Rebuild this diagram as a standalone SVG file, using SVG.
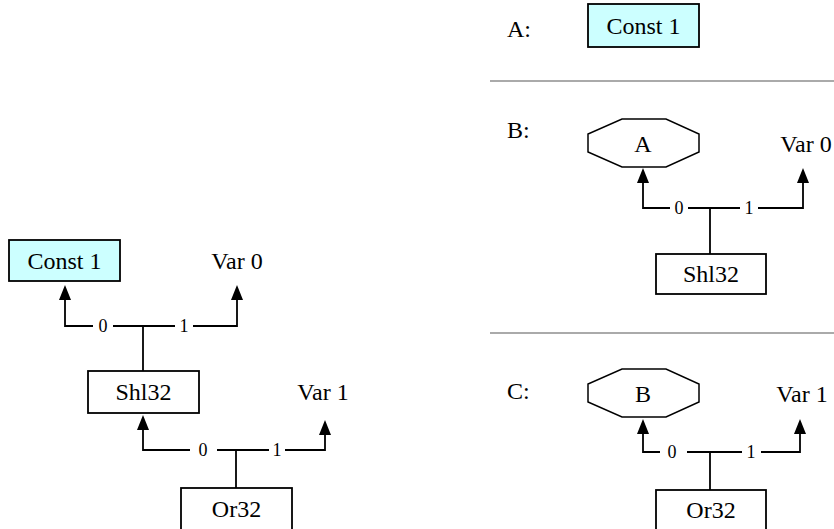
<svg xmlns="http://www.w3.org/2000/svg" width="834" height="529" viewBox="0 0 834 529">
  <style>
    .box { fill: #ffffff; stroke: #000000; stroke-width: 1.8; }
    .const { fill: #ccffff; }
    .oct { fill: #ffffff; stroke: #000000; stroke-width: 1.5; }
    .lbl { font-family: "Liberation Serif", "Times New Roman", serif; font-size: 24px; fill: #000000; }
    .mid { text-anchor: middle; }
    .edge { fill: none; stroke: #000000; stroke-width: 1.8; }
    .elbl { font-family: "Liberation Serif", "Times New Roman", serif; font-size: 18px; fill: #000000; text-anchor: middle; }
    .sep { stroke: #aaaaaa; stroke-width: 2; }
  </style>
  <defs>
    <marker id="arrow" markerUnits="userSpaceOnUse" markerWidth="16" markerHeight="12" refX="0" refY="6" orient="auto">
      <path d="M0,0 L15,6 L0,12 z" fill="#000000"/>
    </marker>
  </defs>

  <!-- Full expression tree (left) -->
  <g id="left-const1">
    <rect class="box const" x="9" y="240" width="111" height="41"/>
    <text class="lbl mid" x="64.5" y="269">Const 1</text>
  </g>
  <g id="left-var0">
    <text class="lbl mid" x="237" y="269">Var 0</text>
  </g>
  <g id="left-shl32">
    <rect class="box" x="88" y="371" width="111" height="42"/>
    <text class="lbl mid" x="143.5" y="400">Shl32</text>
  </g>
  <g id="left-var1">
    <text class="lbl mid" x="323" y="400">Var 1</text>
  </g>
  <g id="left-or32">
    <rect class="box" x="181" y="488" width="111" height="43"/>
    <text class="lbl mid" x="236.5" y="517">Or32</text>
  </g>

  <!-- Sub-expression A -->
  <g id="label-a">
    <text class="lbl" x="507" y="37">A:</text>
  </g>
  <g id="a-const1">
    <rect class="box const" x="588" y="4" width="111" height="43"/>
    <text class="lbl mid" x="643.5" y="34">Const 1</text>
  </g>
  <line class="sep" x1="490" y1="81" x2="834" y2="81"/>

  <!-- Sub-expression B -->
  <g id="label-b">
    <text class="lbl" x="507" y="138">B:</text>
  </g>
  <g id="b-ref-a">
    <polygon class="oct" points="622,119 666,119 699,134 699,152 666,167 622,167 588,152 588,134"/>
    <text class="lbl mid" x="643" y="152">A</text>
  </g>
  <g id="b-var0">
    <text class="lbl mid" x="806" y="152">Var 0</text>
  </g>
  <g id="b-shl32">
    <rect class="box" x="656" y="254" width="110" height="40"/>
    <text class="lbl mid" x="711" y="282">Shl32</text>
  </g>
  <line class="sep" x1="490" y1="333" x2="834" y2="333"/>

  <!-- Sub-expression C -->
  <g id="label-c">
    <text class="lbl" x="507" y="399">C:</text>
  </g>
  <g id="c-ref-b">
    <polygon class="oct" points="622,369 666,369 699,384 699,402 666,417 622,417 588,402 588,384"/>
    <text class="lbl mid" x="643" y="402">B</text>
  </g>
  <g id="c-var1">
    <text class="lbl mid" x="802" y="402">Var 1</text>
  </g>
  <g id="c-or32">
    <rect class="box" x="656" y="490" width="110" height="42"/>
    <text class="lbl mid" x="711" y="518">Or32</text>
  </g>

  <!-- Operand edges -->
  <g id="connectors">
    <!-- Shl32 -> Const 1 / Var 0 -->
    <path class="edge" d="M143,371 V326"/>
    <path class="edge" d="M93,326 H65 V300" marker-end="url(#arrow)"/>
    <path class="edge" d="M113,326 H175"/>
    <path class="edge" d="M193,326 H237 V300" marker-end="url(#arrow)"/>
    <text class="elbl" x="103" y="332">0</text>
    <text class="elbl" x="184" y="332">1</text>

    <!-- Or32 -> Shl32 / Var 1 -->
    <path class="edge" d="M236,488 V450"/>
    <path class="edge" d="M190,450 H143 V430" marker-end="url(#arrow)"/>
    <path class="edge" d="M217,450 H269"/>
    <path class="edge" d="M285,450 H325 V435" marker-end="url(#arrow)"/>
    <text class="elbl" x="203" y="456">0</text>
    <text class="elbl" x="277" y="456">1</text>

    <!-- B: Shl32 -> A / Var 0 -->
    <path class="edge" d="M710,254 V208"/>
    <path class="edge" d="M670,208 H643 V183" marker-end="url(#arrow)"/>
    <path class="edge" d="M688,208 H740"/>
    <path class="edge" d="M758,208 H803 V183" marker-end="url(#arrow)"/>
    <text class="elbl" x="679" y="214">0</text>
    <text class="elbl" x="749" y="214">1</text>

    <!-- C: Or32 -> B / Var 1 -->
    <path class="edge" d="M710,490 V452"/>
    <path class="edge" d="M660,452 H643 V434" marker-end="url(#arrow)"/>
    <path class="edge" d="M687,452 H742"/>
    <path class="edge" d="M761,452 H800 V434" marker-end="url(#arrow)"/>
    <text class="elbl" x="672" y="458">0</text>
    <text class="elbl" x="751" y="458">1</text>
  </g>
</svg>
